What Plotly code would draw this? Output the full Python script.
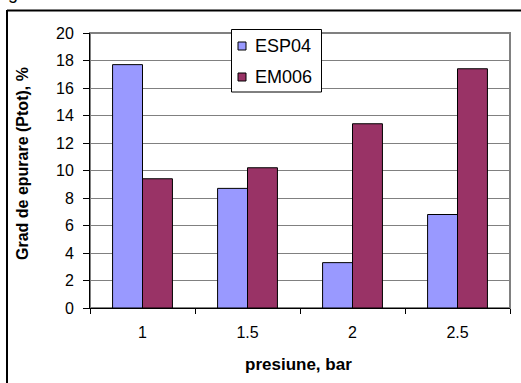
import plotly.graph_objects as go

# Pressure levels (bar) and purification degree (Ptot, %) for two membranes
presiune = ["1", "1.5", "2", "2.5"]
esp04 = [17.7, 8.7, 3.3, 6.8]
em006 = [9.4, 10.2, 13.4, 17.4]
series_names = ["ESP04", "EM006"]
series_colors = ["#9999FF", "#993366"]

W, H = 521, 383
L, R, T, B = 90, 11, 33, 75
pw, ph = W - L - R, H - T - B

def px_x(px):
    return (px - L) / pw

def px_y(py):
    return (H - B - py) / ph

font = dict(family="Arial, Liberation Sans, sans-serif", size=15, color="black")

fig = go.Figure()
for name, vals, col in zip(series_names, [esp04, em006], series_colors):
    fig.add_trace(go.Bar(x=presiune, y=vals, name=name, showlegend=False,
                         marker=dict(color=col, line=dict(color="black", width=1))))

fig.update_layout(
    width=W, height=H,
    margin=dict(l=L, r=R, t=T, b=B, pad=0),
    paper_bgcolor="white", plot_bgcolor="white",
    font=font,
    barmode="group", bargap=0.43, bargroupgap=0,
    xaxis=dict(type="category", tickson="boundaries", ticks="outside", ticklen=5,
               tickcolor="black", showline=True, linecolor="black", linewidth=1,
               showgrid=False, tickfont=dict(size=16), ticklabelstandoff=10,
               fixedrange=True),
    yaxis=dict(range=[0, 20], dtick=2, ticks="outside", ticklen=6, tickcolor="black",
               showline=True, linecolor="black", linewidth=1,
               showgrid=True, gridcolor="#808080", gridwidth=1,
               zeroline=False, tickfont=dict(size=16), ticklabelstandoff=6,
               fixedrange=True),
)

# Plot-area border (gray) and outer chart frame
fig.add_shape(type="rect", xref="paper", yref="paper", x0=0, x1=1, y0=0, y1=1,
              line=dict(color="#808080", width=2), layer="below")
fig.add_shape(type="line", xref="paper", yref="paper",
              x0=px_x(7), x1=px_x(7), y0=px_y(10), y1=px_y(400),
              line=dict(color="black", width=2))
fig.add_shape(type="line", xref="paper", yref="paper",
              x0=px_x(7), x1=px_x(540), y0=px_y(10.5), y1=px_y(10.5),
              line=dict(color="black", width=2))

# Legend box with swatches
fig.add_shape(type="rect", xref="paper", yref="paper",
              x0=px_x(231.5), x1=px_x(321.5), y0=px_y(92), y1=px_y(29.5),
              line=dict(color="black", width=1), fillcolor="white", layer="above")
for i, (name, col) in enumerate(zip(series_names, series_colors)):
    cy = 46 + 31 * i
    fig.add_shape(type="rect", xref="paper", yref="paper",
                  x0=px_x(238), x1=px_x(246), y0=px_y(cy + 4), y1=px_y(cy - 4),
                  line=dict(color="black", width=1), fillcolor=col, layer="above")
    fig.add_annotation(text=name, xref="paper", yref="paper",
                       x=px_x(253), y=px_y(cy), showarrow=False,
                       xanchor="left", yanchor="middle", font=dict(size=18))

# Axis titles
fig.add_annotation(text="<b>Grad de epurare (Ptot), %</b>", xref="paper", yref="paper",
                   x=px_x(22), y=px_y(164), textangle=-90, showarrow=False,
                   xanchor="center", yanchor="middle", font=dict(size=16))
fig.add_annotation(text="<b>presiune, bar</b>", xref="paper", yref="paper",
                   x=px_x(298), y=px_y(364), showarrow=False,
                   xanchor="center", yanchor="middle", font=dict(size=17))
# Trailing letter of the caption above the chart
fig.add_annotation(text="g", xref="paper", yref="paper",
                   x=px_x(6), y=px_y(-7), showarrow=False,
                   xanchor="left", yanchor="middle", font=dict(size=18))

fig.write_html("out.html")
